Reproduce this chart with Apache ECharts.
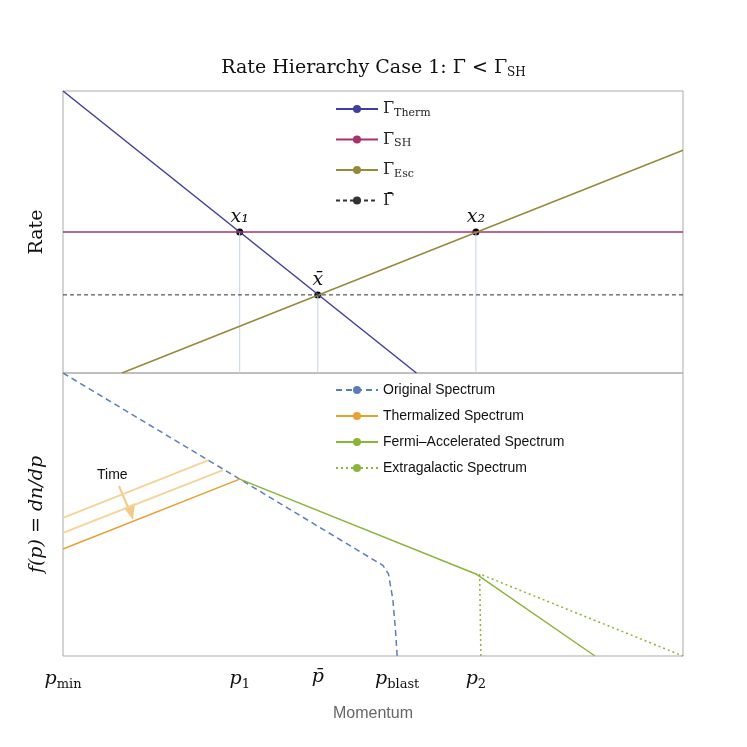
<!DOCTYPE html>
<html>
<head>
<meta charset="utf-8">
<script src="https://cdn.jsdelivr.net/npm/echarts@6/dist/echarts.min.js"></script>
<style>html,body{margin:0;background:#fff}#main{width:747px;height:747px}</style>
</head>
<body>
<div id="main"></div>
<script>
// top panel: rates
var thermLine = [[0, 1], [0.57, 0]];
var shLine = [[0, 0.5], [1, 0.5]];
var escLine = [[0.095, 0], [1, 0.79]];
var barLine = [[0, 0.277], [1, 0.277]];
var crossPoints = [[0.285, 0.5, 'x₁'], [0.411, 0.277, 'x̄'], [0.666, 0.5, 'x₂']];

// bottom panel: spectra
var originalSpec = [[0, 1], [0.285, 0.625], [0.516, 0.32], [0.525, 0.29], [0.532, 0.2], [0.536, 0.1], [0.539, 0]];
var thermSpec = [[0, 0.378], [0.285, 0.625]];
var thermOld1 = [[0, 0.488], [0.236, 0.693]];
var thermOld2 = [[0, 0.435], [0.258, 0.657]];
var fermiSpec = [[0.285, 0.625], [0.666, 0.29], [0.858, 0]];
var extraSpec = [[0.674, 0], [0.672, 0.29], [1, 0]];

var tickPos = [0, 0.285, 0.411, 0.539, 0.666];
var tickText = ['{i|p}{s|min}', '{i|p}{s|1}', '{i|p̄}', '{i|p}{s|blast}', '{i|p}{s|2}'];

var serif = 'DejaVu Serif';
var myChart = echarts.init(document.getElementById('main'));

function line(name, data, color, type, xi, width) {
    return {
        name: name, type: 'line', data: data, xAxisIndex: xi, yAxisIndex: xi,
        symbol: 'none', silent: true,
        lineStyle: {color: color, width: width || 1.5, type: type || 'solid'},
        itemStyle: {color: color}
    };
}

var vlines = crossPoints.map(function (p) {
    return line('', [[p[0], 0], [p[0], p[1]]], '#c5d5ea', 'solid', 0, 1);
});

var option = {
    animation: false,
    title: {
        text: '{t|Rate Hierarchy Case 1: Γ̄ < Γ}{s|SH}',
        left: 'center', top: 52,
        textStyle: {fontWeight: 'normal', rich: {
            t: {fontFamily: serif, fontSize: 19, color: '#111', fontWeight: 'normal'},
            s: {fontFamily: serif, fontSize: 12, color: '#111', fontWeight: 'normal', padding: [10, 0, 0, 0]}
        }}
    },
    grid: [
        {left: 63, right: 64, top: 91, height: 282, show: true, borderColor: '#aaa', borderWidth: 1},
        {left: 63, right: 64, top: 373, height: 283, show: true, borderColor: '#aaa', borderWidth: 1}
    ],
    legend: [{
        data: ['Γ_Therm', 'Γ_SH', 'Γ_Esc', 'Γ_bar'],
        orient: 'vertical', left: 330, top: 96, itemWidth: 42, itemHeight: 10, itemGap: 13,
        formatter: function (n) {
            if (n === 'Γ_bar') return '{g|Γ̄}';
            return '{g|Γ}{s|' + n.split('_')[1] + '}';
        },
        textStyle: {rich: {
            g: {fontFamily: serif, fontSize: 16, color: '#222'},
            s: {fontFamily: serif, fontSize: 11, color: '#222', padding: [8, 0, 0, 0]}
        }}
    }, {
        data: ['Original Spectrum', 'Thermalized Spectrum', 'Fermi\u2013Accelerated Spectrum', 'Extragalactic Spectrum'],
        orient: 'vertical', left: 330, top: 378, itemWidth: 42, itemHeight: 10, itemGap: 12,
        textStyle: {fontFamily: 'Liberation Sans', fontSize: 14, color: '#111'}
    }],
    xAxis: [
        {gridIndex: 0, type: 'value', min: 0, max: 1, axisLine: {show: false}, axisTick: {show: false},
            axisLabel: {show: false}, splitLine: {show: false}},
        {gridIndex: 1, type: 'value', min: 0, max: 1, axisLine: {show: false},
            axisTick: {show: false}, splitLine: {show: false},
            name: 'Momentum', nameLocation: 'middle', nameGap: 50,
            nameTextStyle: {fontFamily: 'Liberation Sans', fontSize: 16, color: '#666'},
            axisLabel: {
                customValues: tickPos, margin: 12,
                formatter: function (v) {
                    for (var i = 0; i < tickPos.length; i++) if (Math.abs(tickPos[i] - v) < 1e-6) return tickText[i];
                    return '';
                },
                rich: {
                    i: {fontFamily: serif, fontStyle: 'italic', fontSize: 19, color: '#111'},
                    s: {fontFamily: serif, fontSize: 13, color: '#111', padding: [10, 0, 0, 0]}
                }
            }}
    ],
    yAxis: [
        {gridIndex: 0, type: 'value', min: 0, max: 1, axisLine: {show: false}, axisTick: {show: false},
            axisLabel: {show: false}, splitLine: {show: false},
            name: 'Rate', nameLocation: 'middle', nameGap: 16, nameRotate: 90,
            nameTextStyle: {fontFamily: serif, fontSize: 19, color: '#111'}},
        {gridIndex: 1, type: 'value', min: 0, max: 1, axisLine: {show: false}, axisTick: {show: false},
            axisLabel: {show: false}, splitLine: {show: false},
            name: 'f(p) = dn/dp', nameLocation: 'middle', nameGap: 16, nameRotate: 90,
            nameTextStyle: {fontFamily: serif, fontStyle: 'italic', fontSize: 19, color: '#111'}}
    ],
    series: vlines.concat([
        line('Γ_Therm', thermLine, '#3f3f9f', 'solid', 0),
        line('Γ_SH', shLine, '#a8336a', 'solid', 0),
        line('Γ_Esc', escLine, '#958a3a', 'solid', 0),
        line('Γ_bar', barLine, '#333', [4, 3], 0, 1),
        {type: 'scatter', xAxisIndex: 0, yAxisIndex: 0, symbolSize: 7, silent: true,
            itemStyle: {color: '#000', opacity: 1},
            data: crossPoints.map(function (p) { return {value: [p[0], p[1]], name: p[2]}; }),
            label: {show: true, position: 'top', distance: 2, formatter: '{b}',
                fontFamily: serif, fontStyle: 'italic', fontSize: 19, color: '#111'}},
        line('', thermOld1, '#f5d49a', 'solid', 1, 2),
        line('', thermOld2, '#f5d49a', 'solid', 1, 2),
        line('Original Spectrum', originalSpec, '#5a7fb8', [6, 4], 1),
        line('Thermalized Spectrum', thermSpec, '#e8a030', 'solid', 1),
        line('Fermi\u2013Accelerated Spectrum', fermiSpec, '#8cb43a', 'solid', 1),
        line('Extragalactic Spectrum', extraSpec, '#8cb43a', [2, 3], 1)
    ]),
    graphic: [
        {type: 'text', left: 97, top: 468, style: {text: 'Time', font: '14px "Liberation Sans"', fill: '#111'}},
        {type: 'line', shape: {x1: 119, y1: 486, x2: 130, y2: 512}, style: {stroke: '#f3c98a', lineWidth: 2}},
        {type: 'polygon', shape: {points: [[124, 508], [135, 503], [133, 520]]}, style: {fill: '#f3c98a'}}
    ]
};
myChart.setOption(option);
</script>
</body>
</html>
